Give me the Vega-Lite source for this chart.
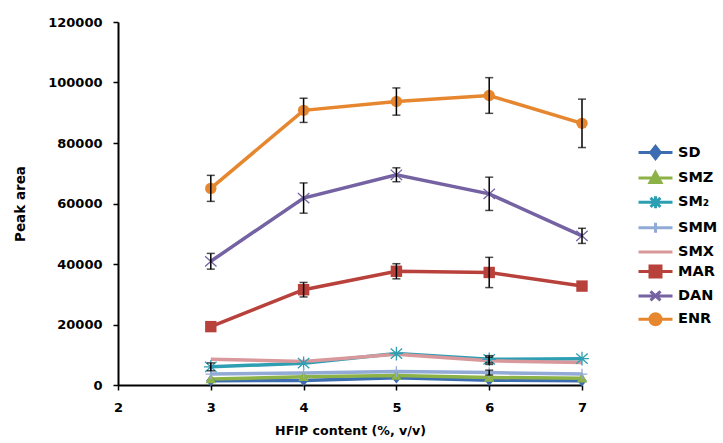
{
  "$schema": "https://vega.github.io/schema/vega-lite/v6.json",
  "autosize": {"type": "none"},
  "width": 464,
  "height": 363,
  "padding": {"left": 118, "top": 22, "right": 141, "bottom": 58},
  "background": "white",
  "config": {
    "view": {"stroke": null},
    "font": "DejaVu Sans",
    "axis": {"grid": false, "domainColor": "black", "domainWidth": 2, "tickColor": "black", "tickWidth": 1.5, "tickSize": 5, "labelFont": "DejaVu Sans", "labelFontWeight": "bold", "labelFontSize": 13, "labelColor": "black", "titleFont": "DejaVu Sans", "titleFontWeight": "bold", "titleFontSize": 13.5, "titleColor": "black"}
  },
  "data": {"values": [
    {"c": "SD", "x": 3, "y": 1400, "e": 0}, {"c": "SD", "x": 4, "y": 1500, "e": 0}, {"c": "SD", "x": 5, "y": 2400, "e": 0}, {"c": "SD", "x": 6, "y": 1600, "e": 0}, {"c": "SD", "x": 7, "y": 1400, "e": 0},
    {"c": "SMZ", "x": 3, "y": 2000, "e": 0}, {"c": "SMZ", "x": 4, "y": 2700, "e": 0}, {"c": "SMZ", "x": 5, "y": 3100, "e": 0}, {"c": "SMZ", "x": 6, "y": 2500, "e": 0}, {"c": "SMZ", "x": 7, "y": 2200, "e": 0},
    {"c": "SM₂", "x": 3, "y": 6000, "e": 1300}, {"c": "SM₂", "x": 4, "y": 7200, "e": 0}, {"c": "SM₂", "x": 5, "y": 10400, "e": 0}, {"c": "SM₂", "x": 6, "y": 8500, "e": 1200}, {"c": "SM₂", "x": 7, "y": 8700, "e": 0},
    {"c": "SMM", "x": 3, "y": 3600, "e": 0}, {"c": "SMM", "x": 4, "y": 4000, "e": 0}, {"c": "SMM", "x": 5, "y": 4500, "e": 0}, {"c": "SMM", "x": 6, "y": 4100, "e": 800}, {"c": "SMM", "x": 7, "y": 3600, "e": 0},
    {"c": "SMX", "x": 3, "y": 8500, "e": 0}, {"c": "SMX", "x": 4, "y": 7800, "e": 0}, {"c": "SMX", "x": 5, "y": 10200, "e": 0}, {"c": "SMX", "x": 6, "y": 8000, "e": 1200}, {"c": "SMX", "x": 7, "y": 7400, "e": 0},
    {"c": "MAR", "x": 3, "y": 19300, "e": 0}, {"c": "MAR", "x": 4, "y": 31500, "e": 2400}, {"c": "MAR", "x": 5, "y": 37600, "e": 2500}, {"c": "MAR", "x": 6, "y": 37200, "e": 5000}, {"c": "MAR", "x": 7, "y": 32700, "e": 0},
    {"c": "DAN", "x": 3, "y": 40900, "e": 2600}, {"c": "DAN", "x": 4, "y": 61800, "e": 5000}, {"c": "DAN", "x": 5, "y": 69500, "e": 2300}, {"c": "DAN", "x": 6, "y": 63200, "e": 5500}, {"c": "DAN", "x": 7, "y": 49300, "e": 2500},
    {"c": "ENR", "x": 3, "y": 65000, "e": 4300}, {"c": "ENR", "x": 4, "y": 90800, "e": 4000}, {"c": "ENR", "x": 5, "y": 93700, "e": 4500}, {"c": "ENR", "x": 6, "y": 95700, "e": 5900}, {"c": "ENR", "x": 7, "y": 86500, "e": 8000}
  ]},
  "encoding": {
    "x": {"field": "x", "type": "quantitative", "scale": {"domain": [2, 7], "nice": false, "zero": false}, "axis": {"values": [2, 3, 4, 5, 6, 7], "title": "HFIP content (%, v/v)", "titleFontSize": 12.6, "labelPadding": 11, "titlePadding": 10, "labelFlush": false}},
    "y": {"field": "y", "type": "quantitative", "scale": {"domain": [0, 120000], "nice": false}, "axis": {"values": [0, 20000, 40000, 60000, 80000, 100000, 120000], "title": "Peak area", "format": "d", "labelPadding": 11, "titlePadding": 20}}
  },
  "layer": [
    {
      "mark": {"type": "line", "strokeWidth": 3.5},
      "encoding": {
        "color": {"field": "c", "type": "nominal", "sort": ["SD", "SMZ", "SM₂", "SMM", "SMX", "MAR", "DAN", "ENR"],
          "scale": {"domain": ["SD", "SMZ", "SM₂", "SMM", "SMX", "MAR", "DAN", "ENR"], "range": ["#3c6db0", "#8db348", "#2e9fb3", "#91aad6", "#d9989b", "#b9413c", "#7462a2", "#e6872f"]},
          "legend": {"title": null, "orient": "none", "legendX": 526, "legendY": 119, "symbolSize": 400, "symbolStrokeWidth": 3, "symbolOpacity": 1, "labelOffset": 11, "rowPadding": 1.4, "labelFont": "DejaVu Sans", "labelFontWeight": "bold", "labelFontSize": 14.5, "labelColor": "black"}
        }
      }
    },
    {
      "mark": {"type": "point", "filled": true, "opacity": 1, "size": 0, "strokeWidth": 0},
      "encoding": {
        "color": {"field": "c", "type": "nominal"},
        "shape": {"field": "c", "type": "nominal", "scale": {"domain": ["SD", "SMZ", "SM₂", "SMM", "SMX", "MAR", "DAN", "ENR"], "range": [
          "M-1.7,0L1.7,0M0,-0.6L0.48,0L0,0.6L-0.48,0Z",
          "M-1.7,0L1.7,0M0,-0.55L0.55,0.45L-0.55,0.45Z",
          "M-1.7,0L1.7,0M0,-0.6L0,0.6M-0.5,-0.45L0.5,0.45M-0.5,0.45L0.5,-0.45",
          "M-1.7,0L1.7,0M0,-0.5L0,0.5",
          "M-1.7,0L1.7,0",
          "M-1.7,0L1.7,0M-0.55,-0.55L0.55,-0.55L0.55,0.55L-0.55,0.55Z",
          "M-1.7,0L1.7,0M-0.5,-0.45L0.5,0.45M-0.5,0.45L0.5,-0.45",
          "M-1.7,0L1.7,0M-0.55,0A0.55,0.55 0 1,0 0.55,0A0.55,0.55 0 1,0 -0.55,0Z"]}}
      }
    },
    {"transform": [{"filter": "datum.c === 'SD'"}], "mark": {"type": "point", "filled": true, "opacity": 1, "size": 110, "color": "#3c6db0", "shape": "M0,-1.1L0.9,0L0,1.1L-0.9,0Z"}},
    {"transform": [{"filter": "datum.c === 'SMZ'"}], "mark": {"type": "point", "filled": true, "opacity": 1, "size": 110, "color": "#8db348", "shape": "M0,-1.1L1,0.8L-1,0.8Z"}},
    {"transform": [{"filter": "datum.c === 'SM₂'"}], "mark": {"type": "point", "filled": false, "opacity": 1, "size": 130, "strokeWidth": 1.3, "color": "#2e9fb3", "shape": "M0,-1.2L0,1.2M-1,-0.9L1,0.9M-1,0.9L1,-0.9M-1.2,0L1.2,0"}},
    {"transform": [{"filter": "datum.c === 'SMM'"}], "mark": {"type": "point", "filled": false, "opacity": 1, "size": 110, "strokeWidth": 1.3, "color": "#91aad6", "shape": "M0,-1L0,1M-1,0L1,0"}},
    {"transform": [{"filter": "datum.c === 'MAR'"}], "mark": {"type": "point", "filled": true, "opacity": 1, "size": 130, "color": "#b9413c", "shape": "square"}},
    {"transform": [{"filter": "datum.c === 'DAN'"}], "mark": {"type": "point", "filled": false, "opacity": 1, "size": 130, "strokeWidth": 1.3, "color": "#7462a2", "shape": "M-1,-0.9L1,0.9M-1,0.9L1,-0.9"}},
    {"transform": [{"filter": "datum.c === 'ENR'"}], "mark": {"type": "point", "filled": true, "opacity": 1, "size": 130, "color": "#e6872f", "shape": "circle"}},
    {
      "transform": [{"filter": "datum.e > 0"}],
      "mark": {"type": "errorbar", "ticks": {"size": 8, "color": "black", "strokeWidth": 1.5}, "color": "black", "thickness": 1.5},
      "encoding": {
        "y": {"field": "y", "type": "quantitative"},
        "yError": {"field": "e"}
      }
    }
  ]
}
